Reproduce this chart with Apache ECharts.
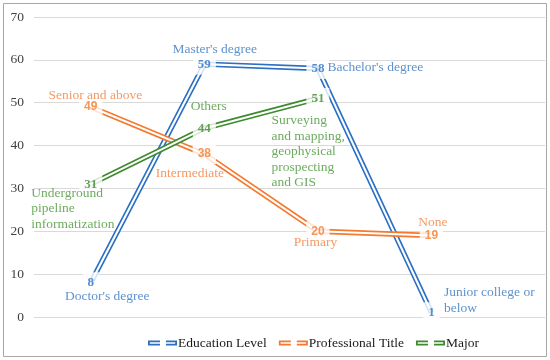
<!DOCTYPE html>
<html>
<head>
<meta charset="utf-8">
<script src="https://cdn.jsdelivr.net/npm/echarts@6/dist/echarts.min.js"></script>
<style>
html,body{margin:0;padding:0;background:#fff;}
#chart{width:550px;height:360px;}
</style>
</head>
<body>
<div id="chart"></div>
<script>
// ---- data ----
const seriesNames = ["Education Level", "Professional Title", "Major"];
const eduCategories = ["Doctor's degree", "Master's degree", "Bachelor's degree", "Junior college or\nbelow"];
const eduValues = [8, 59, 58, 1];
const profCategories = ["Senior and above", "Intermediate", "Primary", "None"];
const profValues = [49, 38, 20, 19];
const majorCategories = ["Underground\npipeline\ninformatization", "Others", "Surveying\nand mapping,\ngeophysical\nprospecting\nand GIS"];
const majorValues = [31, 44, 51];
const yMin = 0, yMax = 70, yInterval = 10;

// ---- styles ----
const colors = {
  line: ['#2B70C4', '#F47A30', '#3E8B2E'],
  name: ['#3577C2', '#F3803F', '#479636']
};
const nameLayout = [
  [{dx:17,dy:14,align:'center'},{dx:11,dy:-14,align:'center'},{dx:10,dy:0,align:'left'},{dx:13,dy:-12,align:'left'}],
  [{dx:5,dy:-11,align:'center'},{dx:-14,dy:20,align:'center'},{dx:-2,dy:12,align:'center'},{dx:2,dy:-13,align:'center'}],
  [{dx:-59,dy:25,align:'left'},{dx:5,dy:-21,align:'center'},{dx:-46,dy:54,align:'left'}]
];
const valueFonts = ['Liberation Serif', 'Liberation Sans', 'Liberation Serif'];

const allValues = [eduValues, profValues, majorValues];
const allCats = [eduCategories, profCategories, majorCategories];

const series = [];
allValues.forEach((vals, s) => {
  const pts = vals.map((v, i) => [i + 1, v]);
  series.push({
    name: seriesNames[s], type: 'line', data: pts, symbol: 'none', silent: true,
    lineStyle: {color: colors.line[s], width: 5.4}, itemStyle: {color: colors.line[s]}, z: 2
  });
  series.push({
    name: '_w' + s, type: 'line', data: pts, symbol: 'none', silent: true,
    lineStyle: {color: '#ffffff', width: 2.1}, z: 2
  });
});
allValues.forEach((vals, s) => {
  series.push({
    name: '_v' + s, type: 'scatter', z: 10, silent: true, symbolSize: 1,
    itemStyle: {color: 'rgba(0,0,0,0)'},
    data: vals.map((v, i) => [i + 1, v]),
    label: {
      show: true, position: 'inside', formatter: p => String(p.value[1]),
      color: colors.line[s], fontFamily: valueFonts[s], fontWeight: 'bold',
      fontSize: s === 1 ? 12 : 13, backgroundColor: '#ffffff', padding: [4, 5]
    }
  });
  series.push({
    name: '_n' + s, type: 'scatter', z: 11, silent: true, symbolSize: 1,
    itemStyle: {color: 'rgba(0,0,0,0)'},
    data: vals.map((v, i) => ({
      value: [i + 1, v],
      label: {
        show: true, position: [nameLayout[s][i].dx, nameLayout[s][i].dy],
        align: nameLayout[s][i].align, verticalAlign: 'middle',
        formatter: allCats[s][i]
      }
    })),
    label: {
      show: true, color: colors.name[s], fontFamily: 'Liberation Serif',
      fontSize: 13.5, lineHeight: 15.5
    }
  });
});

const legendIcon = 'path://M0,0 L12,0 L12,1.8 L1.8,1.8 L1.8,3.4 L12,3.4 L12,5.2 L0,5.2 Z M18,0 L29,0 L29,5.2 L18,5.2 L18,3.4 L27.2,3.4 L27.2,1.8 L18,1.8 Z';

const chart = echarts.init(document.getElementById('chart'));
chart.setOption({
  animation: false,
  backgroundColor: '#fff',
  grid: {left: 34, right: 5, top: 17, bottom: 43},
  xAxis: {type: 'value', min: 0.5, max: 5, show: false},
  yAxis: {
    type: 'value', min: yMin, max: yMax, interval: yInterval,
    axisLine: {show: false}, axisTick: {show: false},
    axisLabel: {color: '#404040', fontFamily: 'Liberation Serif', fontSize: 13.5, margin: 10},
    splitLine: {lineStyle: {color: '#d9d9d9', width: 1}}
  },
  legend: {
    left: 143, top: 331, itemWidth: 29, itemHeight: 6, itemGap: 12,
    textStyle: {fontFamily: 'Liberation Serif', fontSize: 13.5, color: '#1a1a1a', padding: [0, 0, 0, -4]},
    data: seriesNames.map(n => ({name: n, icon: legendIcon}))
  },
  graphic: [{
    type: 'rect', shape: {x: 3.5, y: 3.5, width: 543, height: 353},
    style: {fill: 'none', stroke: '#a6a6a6', lineWidth: 1}, silent: true, z: 100
  }],
  series: series
});
</script>
</body>
</html>
